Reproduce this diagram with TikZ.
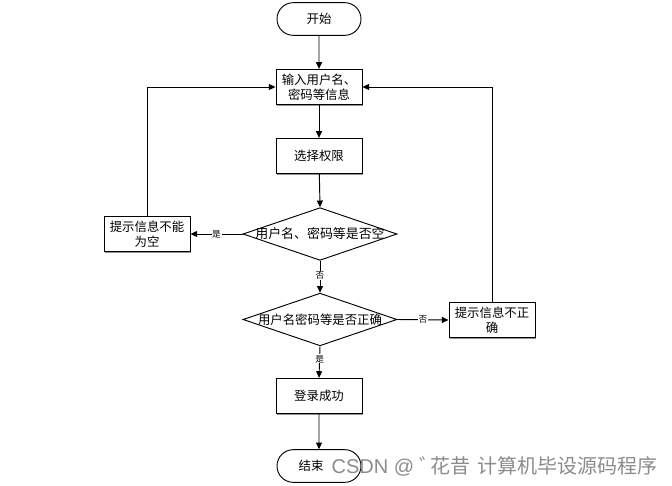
\documentclass[tikz,border=0pt]{standalone}
\usepackage{fontspec}
\newfontfamily\cjk{Noto Sans CJK SC}
\newfontfamily\wmlat{Liberation Sans}
\usetikzlibrary{arrows.meta,shapes.misc,shapes.geometric,shadows}
\begin{document}
\begin{tikzpicture}[x=0.75pt,y=-0.75pt,
  every node/.style={font=\cjk\fontsize{9.3}{11.3}\selectfont},
  line/.style={line width=0.7pt,draw=black},
  arr/.style={line, -{Triangle[length=5pt,width=4.5pt]}},
  term/.style={rounded rectangle, draw, line width=0.7pt, minimum width=63pt, minimum height=24.5pt, inner sep=0pt, fill=white},
  proc/.style={rectangle, draw, line width=0.7pt, minimum width=64.5pt, minimum height=26.5pt, inner sep=1pt, fill=white, align=center,
     drop shadow={shadow xshift=0.9pt, shadow yshift=-0.9pt, opacity=0.7, fill=black!60}},
  dia/.style={diamond, draw, line width=0.7pt, minimum width=115.5pt, minimum height=39.5pt, inner sep=0pt, fill=white},
  lbl/.style={font=\cjk\fontsize{6.5}{7.5}\selectfont, fill=white, inner sep=0.5pt},
  wm/.style={font=\cjk\fontsize{15}{16}\selectfont, text=black!45, inner sep=0pt}
]
\useasboundingbox[fill=white] (0,0) rectangle (672,486);

\node[term] (start) at (319,19) {开始};
\node[proc] (input) at (319,87) {输入用户名、\\密码等信息};
\node[proc] (role) at (319,156) {选择权限};
\node[dia] (d1) at (320,234) {};
\node (d1t) at (320,234) {\fontsize{9.7}{11}\selectfont 用户名、密码等是否空};
\node[proc] (empty) at (147,234) {提示信息不能\\为空};
\node[dia] (d2) at (320,319.5) {};
\node (d2t) at (320,319.5) {用户名密码等是否正确};
\node[proc] (wrong) at (492,320) {提示信息不正\\确};
\node[proc] (ok) at (319,396) {登录成功};
\node[term] (stop) at (319,466) {\hspace{-12pt}结束};

\coordinate (c1) at (147,87);
\coordinate (c2) at (492,87);

\draw[arr] (start) -- (input);
\draw[arr] (input) -- (role);
\draw[arr] (role) -- (d1.north);
\draw[arr] (d1.west) -- node[lbl,pos=0.5] (l1) {是} (empty.east);
\draw[arr] (d1.south) -- node[lbl,pos=0.45] (l2) {否} (d2.north);
\draw[arr] (d2.east) -- node[lbl,pos=0.5] (l3) {否} (wrong.west);
\draw[arr] (d2.south) -- node[lbl,pos=0.4] (l4) {是} (ok.north);
\draw[arr] (ok) -- (stop);
\draw[arr] (empty.north) -- (c1) -- (input.west);
\draw[arr] (wrong.north) -- (c2) -- (input.east);

\node[wm, anchor=east] (mark) at (658,466) {{\wmlat CSDN @ }゛\hspace{-0.45em}花昔\hspace{0.35em}计算机毕设源码程序};
\end{tikzpicture}
\end{document}
